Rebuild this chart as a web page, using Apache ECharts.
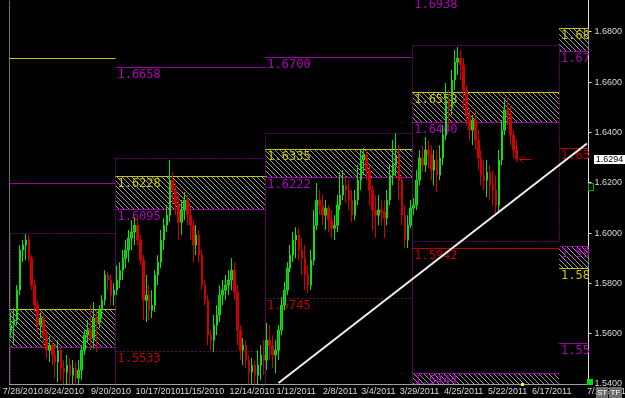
<!DOCTYPE html>
<html><head><meta charset="utf-8">
<script src="https://cdn.jsdelivr.net/npm/echarts/dist/echarts.min.js"></script>
<style>html,body{margin:0;padding:0;background:#000;}#c{width:625px;height:398px;}</style>
</head><body><div id="c"></div>
<script>
// ---- candle data (GBP/USD style daily bars) ----
const opens=[
1.5614,1.5634,1.5654,1.5773,1.5932,1.5952,1.5972,1.5900,1.5793,1.5713,
1.5634,1.5662,1.5594,1.5534,1.5554,1.5515,1.5487,1.5534,1.5463,1.5447,
1.5475,1.5435,1.5463,1.5423,1.5455,1.5534,1.5594,1.5614,1.5582,1.5662,
1.5646,1.5693,1.5733,1.5833,1.5813,1.5753,1.5773,1.5813,1.5852,1.5900,
1.5932,1.5980,1.6004,1.6031,1.5972,1.5892,1.5733,1.5753,1.5693,1.5713,
1.5833,1.5884,1.5972,1.6031,1.6071,1.6210,1.6171,1.6111,1.6043,1.6091,
1.6131,1.6071,1.6031,1.5952,1.5992,1.5912,1.5793,1.5733,1.5594,1.5574,
1.5634,1.5674,1.5753,1.5773,1.5793,1.5813,1.5852,1.5765,1.5614,1.5534,
1.5554,1.5495,1.5447,1.5475,1.5435,1.5475,1.5515,1.5495,1.5574,1.5554,
1.5515,1.5534,1.5614,1.5713,1.5773,1.5860,1.5912,1.5972,1.5992,1.5932,
1.5900,1.5833,1.5793,1.5892,1.6031,1.6131,1.6111,1.6071,1.6099,1.6051,
1.6019,1.6031,1.6111,1.6151,1.6190,1.6171,1.6131,1.6071,1.6131,1.6210,
1.6290,1.6310,1.6250,1.6171,1.6091,1.6071,1.6091,1.6083,1.6059,1.6131,
1.6230,1.6270,1.6310,1.6210,1.6071,1.5972,1.6031,1.6099,1.6111,1.6210,
1.6298,1.6270,1.6330,1.6310,1.6250,1.6290,1.6230,1.6298,1.6389,1.6528,
1.6497,1.6608,1.6679,1.6695,1.6668,1.6568,1.6469,1.6409,1.6449,1.6369,
1.6298,1.6230,1.6210,1.6242,1.6190,1.6171,1.6111,1.6290,1.6409,1.6489,
1.6469,1.6389,1.6330];
const highs=[
1.5685,1.5701,1.5793,1.5952,1.5972,1.5996,1.5992,1.5912,1.5813,1.5733,
1.5685,1.5674,1.5614,1.5590,1.5574,1.5554,1.5574,1.5542,1.5495,1.5515,
1.5503,1.5495,1.5487,1.5495,1.5554,1.5614,1.5654,1.5713,1.5725,1.5693,
1.5713,1.5753,1.5852,1.5845,1.5833,1.5801,1.5872,1.5884,1.5932,1.5972,
1.6012,1.6051,1.6063,1.6071,1.5992,1.5912,1.5833,1.5793,1.5773,1.5852,
1.5912,1.6012,1.6059,1.6111,1.6290,1.6242,1.6198,1.6151,1.6131,1.6163,
1.6151,1.6111,1.6051,1.6031,1.6012,1.5932,1.5813,1.5753,1.5614,1.5674,
1.5713,1.5793,1.5813,1.5833,1.5852,1.5900,1.5884,1.5793,1.5634,1.5582,
1.5574,1.5515,1.5503,1.5495,1.5534,1.5554,1.5574,1.5642,1.5634,1.5594,
1.5574,1.5634,1.5745,1.5805,1.5884,1.5952,1.6004,1.6023,1.6019,1.5980,
1.5952,1.5872,1.5932,1.6091,1.6198,1.6171,1.6151,1.6131,1.6111,1.6091,
1.6071,1.6151,1.6242,1.6250,1.6230,1.6210,1.6171,1.6171,1.6270,1.6330,
1.6338,1.6330,1.6270,1.6190,1.6151,1.6151,1.6131,1.6131,1.6171,1.6270,
1.6369,1.6397,1.6349,1.6230,1.6111,1.6071,1.6131,1.6139,1.6250,1.6330,
1.6349,1.6381,1.6369,1.6349,1.6330,1.6330,1.6349,1.6429,1.6596,1.6568,
1.6648,1.6727,1.6739,1.6727,1.6695,1.6588,1.6497,1.6469,1.6481,1.6409,
1.6330,1.6290,1.6290,1.6270,1.6250,1.6230,1.6330,1.6449,1.6536,1.6540,
1.6509,1.6409,1.6369];
const lows=[
1.5582,1.5554,1.5634,1.5753,1.5884,1.5892,1.5884,1.5773,1.5685,1.5606,
1.5582,1.5554,1.5503,1.5487,1.5475,1.5423,1.5407,1.5415,1.5399,1.5399,
1.5399,1.5399,1.5399,1.5399,1.5415,1.5515,1.5566,1.5534,1.5542,1.5526,
1.5622,1.5662,1.5713,1.5773,1.5713,1.5713,1.5753,1.5781,1.5813,1.5860,
1.5884,1.5932,1.5952,1.5952,1.5872,1.5654,1.5646,1.5654,1.5662,1.5685,
1.5793,1.5860,1.5932,1.6004,1.6043,1.6111,1.6071,1.5972,1.5992,1.6051,
1.6031,1.5972,1.5884,1.5912,1.5884,1.5773,1.5713,1.5554,1.5534,1.5526,
1.5594,1.5646,1.5713,1.5733,1.5753,1.5773,1.5733,1.5554,1.5495,1.5475,
1.5463,1.5399,1.5399,1.5399,1.5399,1.5415,1.5435,1.5455,1.5495,1.5463,
1.5443,1.5495,1.5594,1.5693,1.5753,1.5845,1.5884,1.5900,1.5892,1.5833,
1.5773,1.5761,1.5773,1.5872,1.6012,1.6071,1.6031,1.6012,1.6004,1.5980,
1.5972,1.6004,1.6091,1.6131,1.6119,1.6091,1.6043,1.6051,1.6111,1.6171,
1.6230,1.6210,1.6111,1.6012,1.5980,1.6031,1.6031,1.5980,1.6031,1.6111,
1.6190,1.6230,1.6131,1.6031,1.5940,1.5940,1.6019,1.6071,1.6091,1.6190,
1.6242,1.6242,1.6258,1.6210,1.6190,1.6163,1.6210,1.6270,1.6369,1.6409,
1.6469,1.6568,1.6628,1.6608,1.6489,1.6429,1.6369,1.6349,1.6330,1.6250,
1.6190,1.6171,1.6143,1.6131,1.6111,1.6071,1.6079,1.6270,1.6389,1.6429,
1.6349,1.6298,1.6282];
const closes=[
1.5634,1.5654,1.5773,1.5932,1.5952,1.5972,1.5900,1.5793,1.5713,1.5634,
1.5662,1.5594,1.5534,1.5554,1.5515,1.5487,1.5534,1.5463,1.5447,1.5475,
1.5435,1.5463,1.5423,1.5455,1.5534,1.5594,1.5614,1.5582,1.5662,1.5646,
1.5693,1.5733,1.5833,1.5813,1.5753,1.5773,1.5813,1.5852,1.5900,1.5932,
1.5980,1.6004,1.6031,1.5972,1.5892,1.5733,1.5753,1.5693,1.5713,1.5833,
1.5884,1.5972,1.6031,1.6071,1.6210,1.6171,1.6111,1.6043,1.6091,1.6131,
1.6071,1.6031,1.5952,1.5992,1.5912,1.5793,1.5733,1.5594,1.5574,1.5634,
1.5674,1.5753,1.5773,1.5793,1.5813,1.5852,1.5765,1.5614,1.5534,1.5554,
1.5495,1.5447,1.5475,1.5435,1.5475,1.5515,1.5495,1.5574,1.5554,1.5515,
1.5534,1.5614,1.5713,1.5773,1.5860,1.5912,1.5972,1.5992,1.5932,1.5900,
1.5833,1.5793,1.5892,1.6031,1.6131,1.6111,1.6071,1.6099,1.6051,1.6019,
1.6031,1.6111,1.6151,1.6190,1.6171,1.6131,1.6071,1.6131,1.6210,1.6290,
1.6310,1.6250,1.6171,1.6091,1.6071,1.6091,1.6083,1.6059,1.6131,1.6230,
1.6270,1.6310,1.6210,1.6071,1.5972,1.6031,1.6099,1.6111,1.6210,1.6298,
1.6270,1.6330,1.6310,1.6250,1.6290,1.6230,1.6298,1.6389,1.6528,1.6497,
1.6608,1.6679,1.6695,1.6668,1.6568,1.6469,1.6409,1.6449,1.6369,1.6298,
1.6230,1.6210,1.6242,1.6190,1.6171,1.6111,1.6290,1.6409,1.6489,1.6469,
1.6389,1.6330,1.6294];

// ---- axis ----
const nCats=197;
const tickIdx=[4,18,34,50,65,82,97,112,125,139,154,169,184];
const tickText=['7/28/2010','8/24/2010','9/20/2010','10/17/2010','11/15/2010','12/14/2010','1/12/2011','2/8/2011','3/4/2011','3/29/2011','4/25/2011','5/22/2011','6/17/2011'];
const yMin=1.54, yMax=1.6926, yStep=0.02;

// ---- period structure (bar-index edges) ----
const periodEdges=[0,36,87,137,187,197];
const boxPeriod=[0,1,2,3];
const boxTop=[1.6000,1.6297,1.6399,1.6747];
const boxBottom=[1.5400,1.5400,1.5400,1.5969];
const sepEdge=[137], sepTop=[1.5969], sepBottom=[1.5400];
const zonePeriod=[0,1,2,3,3,4,4];
const zoneTop=[1.5700,1.6228,1.6334,1.6559,1.5442,1.6816,1.5948];
const zoneBottom=[1.5547,1.6094,1.6222,1.6440,1.5300,1.6723,1.5860];
const linePeriod=[0,0,0,0, 1,1,1,1, 2,2,2,2, 3,3,3,3,3, 4,4,4,4,4,4];
const lineValue=[1.6694,1.6197,1.5700,1.5547, 1.6658,1.6228,1.6094,1.5532, 1.6698,1.6334,1.6222,1.5742, 1.6938,1.6559,1.6440,1.5939,1.5442, 1.6816,1.6723,1.6338,1.5948,1.5860,1.5562];
const lineKind=['y','m','y','m', 'm','y','m','p', 'm','y','m','p', 'm','y','m','r','m', 'y','m','r','m','y','m'];
const lineLabel=['','','','', '1.6658','1.6228','1.6095','1.5533', '1.6700','1.6335','1.6222','1.5745', '1.6938','1.6558','1.6440','1.5942','1.5444', '1.6816','1.6723','1.6338','1.5948','1.5860','1.5562'];

const trendIdx=[91,196], trendVal=[1.5404,1.6356];
const lastIdx=172, lastPrice=1.6294;

// ---- build ----
const cats=[]; const labelMap={};
for(let i=0;i<nCats;i++){cats.push('c'+i);}
tickIdx.forEach((k,j)=>{labelMap[k]=tickText[j];});
const candleData=opens.map((o,i)=>[o,closes[i],lows[i],highs[i]]);

const lineColor={y:'#c8c800',m:'#a000a8',p:'#5c1458',r:'#c00000'};
const textColor={y:'#c8c800',m:'#b000c0',p:'#c00000',r:'#c00000'};

const cv=document.createElement('canvas'); cv.width=5; cv.height=5;
const g=cv.getContext('2d'); g.fillStyle='#000'; g.fillRect(0,0,5,5); g.fillStyle='#9a9a9a';
for(let k=0;k<5;k++){g.fillRect(k,k,1,1);}
const hatch={image:cv,repeat:'repeat'};

function edgePx(api,k){const bw=api.size([1,0])[0];return api.coord([0,1.6])[0]-bw/2+k*bw;}
function yPx(api,v){return Math.round(api.coord([0,v])[1])+0.5;}

const chart=echarts.init(document.getElementById('c'),null,{renderer:'canvas'});
const labelFont='"Liberation Sans Narrow","Liberation Sans",Arial,sans-serif';
const option={
  animation:false,
  backgroundColor:'#000',
  grid:{left:3,right:31,top:0,bottom:14},
  xAxis:{type:'category',data:cats,boundaryGap:true,
    axisLine:{lineStyle:{color:'#a0a0a0'}},axisTick:{show:false},splitLine:{show:false},
    axisLabel:{interval:(i)=>labelMap[i]!==undefined,formatter:(v,i)=>labelMap[i]||'',color:'#d8d8d8',fontSize:9,fontFamily:labelFont,margin:3}},
  yAxis:[
    {type:'value',position:'right',min:yMin,max:yMax,interval:yStep,scale:true,
     axisLine:{show:true,lineStyle:{color:'#e0e0e0'}},axisTick:{show:true,length:3,lineStyle:{color:'#e0e0e0'}},
     splitLine:{show:false},
     axisLabel:{color:'#d8d8d8',fontSize:9,fontFamily:labelFont,margin:6,showMaxLabel:false,formatter:(v)=>v.toFixed(4)}},
    {type:'value',position:'left',min:yMin,max:yMax,scale:true,
     axisLine:{show:true,lineStyle:{color:'#8a8a8a',type:'dotted'}},axisTick:{show:false},axisLabel:{show:false},splitLine:{show:false}}
  ],
  series:[
    {type:'custom',name:'zones',clip:true,z:1,data:zonePeriod.map((p,i)=>[i,1.6]),
     renderItem:(params,api)=>{const i=params.dataIndex,p=zonePeriod[i];
       const x0=edgePx(api,periodEdges[p]),x1=edgePx(api,periodEdges[p+1]);
       const y0=yPx(api,zoneTop[i]),y1=yPx(api,zoneBottom[i]);
       return {type:'rect',shape:{x:x0,y:y0,width:x1-x0,height:y1-y0},style:{fill:hatch}};}},
    {type:'custom',name:'boxes',clip:true,z:2,data:boxPeriod.map((p,i)=>[i,1.6]),
     renderItem:(params,api)=>{const i=params.dataIndex,p=boxPeriod[i];
       const x0=Math.round(edgePx(api,periodEdges[p]))+0.5,x1=Math.round(edgePx(api,periodEdges[p+1]))+0.5;
       const y0=yPx(api,boxTop[i]),y1=yPx(api,boxBottom[i]);
       return {type:'rect',shape:{x:x0,y:y0,width:x1-x0,height:y1-y0},style:{fill:null,stroke:'#5e0a60',lineWidth:1,lineDash:[2,1]}};}},
    {type:'custom',name:'separators',clip:true,z:2,data:sepEdge.map((e,i)=>[i,1.6]),
     renderItem:(params,api)=>{const i=params.dataIndex;const x=Math.round(edgePx(api,sepEdge[i]))+0.5;
       return {type:'line',shape:{x1:x,y1:yPx(api,sepTop[i]),x2:x,y2:yPx(api,sepBottom[i])},style:{stroke:'#5e0a60',lineWidth:1,lineDash:[2,1]}};}},
    {type:'custom',name:'levels',clip:true,z:3,data:linePeriod.map((p,i)=>[i,1.6]),
     renderItem:(params,api)=>{const i=params.dataIndex,p=linePeriod[i],k=lineKind[i];
       const x0=edgePx(api,periodEdges[p]),x1=edgePx(api,periodEdges[p+1]);
       const y=yPx(api,lineValue[i]);
       const ch=[{type:'line',shape:{x1:x0,y1:y,x2:x1,y2:y},style:{stroke:lineColor[k],lineWidth:1,lineDash:k==='p'?[2,2]:null}}];
       if(lineLabel[i]){ch.push({type:'text',x:x0+2,y:y+1.5,style:{text:lineLabel[i],fill:textColor[k],font:'12px "DejaVu Sans Mono",monospace',align:'left',verticalAlign:'top'}});}
       return {type:'group',children:ch};}},
    {type:'candlestick',name:'price',z:4,data:candleData,barWidth:2,clip:true,
     itemStyle:{color:'#00c000',color0:'#d00000',borderColor:'#10e010',borderColor0:'#d00000',borderWidth:1}},
    {type:'line',name:'trend',z:6,data:trendIdx.map((x,i)=>[x,trendVal[i]]),symbol:'none',clip:true,
     lineStyle:{color:'#f0f0f0',width:2}}
  ]
};
chart.setOption(option);

const pt=chart.convertToPixel({xAxisIndex:0,yAxisIndex:0},[lastIdx,lastPrice]);
const py=Math.round(pt[1]);
chart.setOption({graphic:[
  {type:'polyline',z:100,shape:{points:[[pt[0]+15,py+0.5],[pt[0]+3,py+0.5]]},style:{stroke:'#d00000',lineWidth:1}},
  {type:'polyline',z:100,shape:{points:[[pt[0]+7,py-2.5],[pt[0]+3,py+0.5],[pt[0]+7,py+3.5]]},style:{stroke:'#d00000',fill:null,lineWidth:1}},
  {type:'rect',z:100,shape:{x:594,y:py-4,width:31,height:9},style:{fill:'#ffffff'}},
  {type:'text',z:101,x:609.5,y:py+0.5,style:{text:lastPrice.toFixed(4),fill:'#000',font:'9px '+labelFont,align:'center',verticalAlign:'middle'}},
  {type:'rect',z:100,shape:{x:588.5,y:183.5,width:5,height:7},style:{fill:'#000',stroke:'#00b000',lineWidth:1}},
  {type:'rect',z:100,shape:{x:587,y:379,width:6,height:6},style:{fill:'#00e000'}},
  {type:'rect',z:100,shape:{x:521,y:383,width:3,height:3},style:{fill:'#ffff00'}},
  {type:'text',z:100,x:587,y:392,style:{text:'7/11/2011',fill:'#d8d8d8',font:'9px '+labelFont,align:'left',verticalAlign:'middle'}},
  {type:'rect',z:102,shape:{x:596,y:387,width:12,height:11},style:{fill:'#6e6e6e'}},
  {type:'text',z:103,x:602,y:392.5,style:{text:'ST',fill:'#ffffff',font:'8px '+labelFont,align:'center',verticalAlign:'middle'}},
  {type:'rect',z:102,shape:{x:609,y:387,width:13,height:11},style:{fill:'#6e6e6e'}},
  {type:'text',z:103,x:615.5,y:392.5,style:{text:'TF',fill:'#ffffff',font:'8px '+labelFont,align:'center',verticalAlign:'middle'}}
]});
</script>
</body></html>
